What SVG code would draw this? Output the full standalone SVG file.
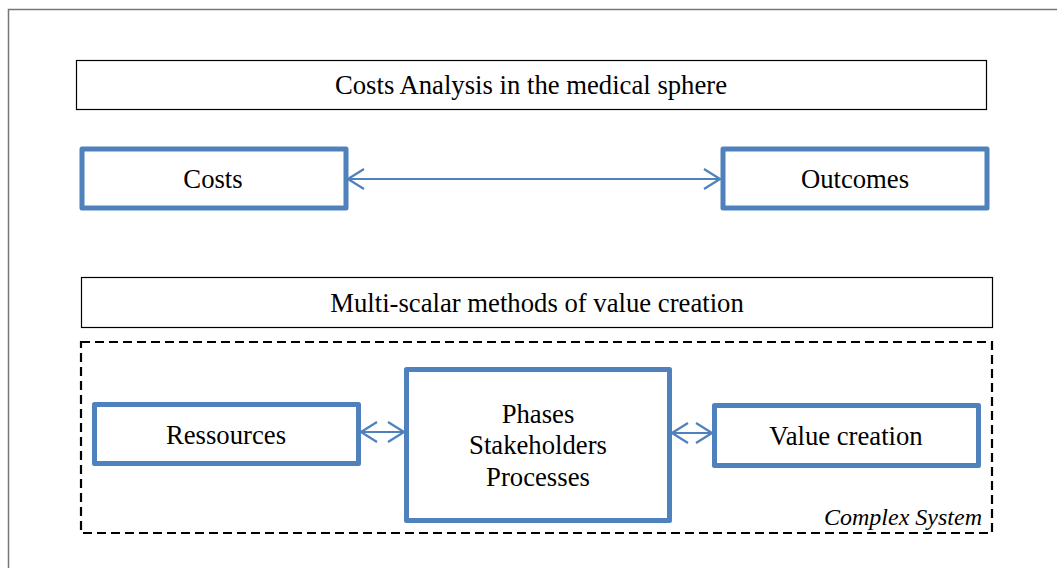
<svg xmlns="http://www.w3.org/2000/svg" width="1057" height="568" viewBox="0 0 1057 568">
<style>
.t{font-family:"Liberation Serif","Times New Roman",serif;font-size:26.7px;fill:#000;text-anchor:middle}
.hdr{fill:#fff;stroke:#000;stroke-width:1.2}
.node{fill:#fff;stroke:#4F81BD;stroke-width:5;stroke-linejoin:round}
.conn{stroke:#4F81BD;stroke-width:2;fill:none}
</style>
<defs>
<marker id="ah" viewBox="0 0 18 22" refX="17" refY="11" markerWidth="18" markerHeight="22" markerUnits="userSpaceOnUse" orient="auto-start-reverse">
<path d="M1,1 L17,11 L1,21" fill="none" stroke="#4F81BD" stroke-width="2.2"/>
</marker>
</defs>
<rect width="1057" height="568" fill="#fff"/>
<path d="M8.5,568 V9.5 H1057" fill="none" stroke="#777" stroke-width="1.5"/>
<g id="title1"><rect class="hdr" x="76.5" y="60.5" width="910" height="49"/><text class="t" x="531" y="94">Costs Analysis in the medical sphere</text></g>
<g id="costs"><rect class="node" x="82" y="149" width="264" height="59"/><text class="t" x="213" y="188">Costs</text></g>
<g id="outcomes"><rect class="node" x="723" y="149" width="264" height="59"/><text class="t" x="855" y="188">Outcomes</text></g>
<g id="title2"><rect class="hdr" x="81.5" y="277.5" width="911" height="50"/><text class="t" x="537" y="312">Multi-scalar methods of value creation</text></g>
<g id="complex"><rect x="81" y="342" width="911" height="191" fill="none" stroke="#000" stroke-width="2.2" stroke-dasharray="9,5"/><text x="982" y="525" font-family="'Liberation Serif','Times New Roman',serif" font-size="24" font-style="italic" text-anchor="end">Complex System</text></g>
<g id="ressources"><rect class="node" x="94.5" y="404.5" width="264" height="59"/><text class="t" x="226" y="444">Ressources</text></g>
<g id="phases"><rect class="node" x="406.5" y="369.5" width="263" height="151"/><text class="t" x="538" y="423">Phases</text><text class="t" x="538" y="454">Stakeholders</text><text class="t" x="538" y="486">Processes</text></g>
<g id="value"><rect class="node" x="714.5" y="405.5" width="264" height="60"/><text class="t" x="846" y="445">Value creation</text></g>
<g id="connectors">
<line class="conn" x1="348" y1="179" x2="720" y2="179" marker-start="url(#ah)" marker-end="url(#ah)"/>
<line class="conn" x1="361" y1="432" x2="404" y2="432" marker-start="url(#ah)" marker-end="url(#ah)"/>
<line class="conn" x1="672" y1="433" x2="712" y2="433" marker-start="url(#ah)" marker-end="url(#ah)"/>
</g>
</svg>
